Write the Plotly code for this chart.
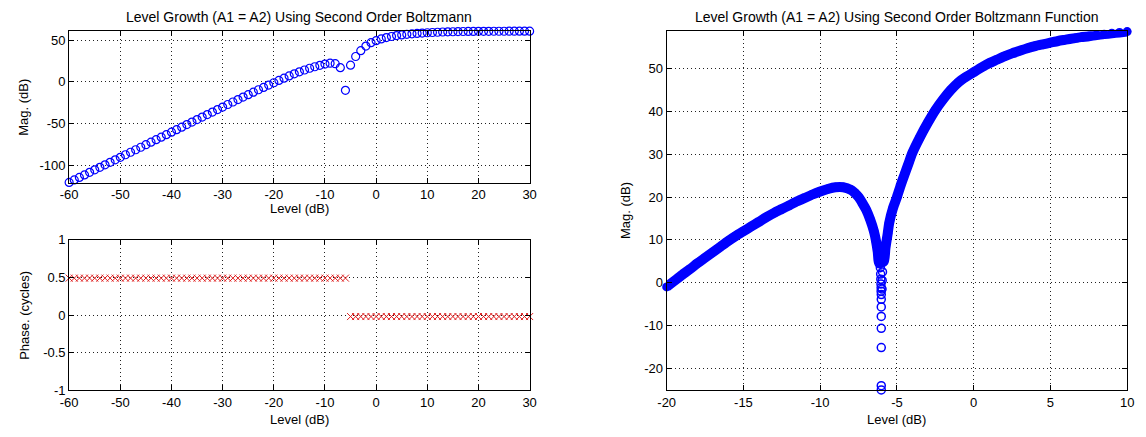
import plotly.graph_objects as go

# ---------------- data ----------------
# Left panels: level steps of 1 dB from -60 to 30
level_db = [-60, -59, -58, -57, -56, -55, -54, -53, -52, -51,
            -50, -49, -48, -47, -46, -45, -44, -43, -42, -41,
            -40, -39, -38, -37, -36, -35, -34, -33, -32, -31,
            -30, -29, -28, -27, -26, -25, -24, -23, -22, -21,
            -20, -19, -18, -17, -16, -15, -14, -13, -12, -11,
            -10, -9, -8, -7, -6, -5, -4, -3, -2, -1,
            0, 1, 2, 3, 4, 5, 6, 7, 8, 9,
            10, 11, 12, 13, 14, 15, 16, 17, 18, 19,
            20, 21, 22, 23, 24, 25, 26, 27, 28, 29, 30]

mag_db = [-120.0, -117.0, -114.0, -111.0, -108.0, -105.0, -102.0, -99.0, -96.0, -93.0,
          -90.0, -87.0, -84.0, -81.0, -78.0, -75.0, -72.0, -69.0, -66.0, -63.0,
          -60.0, -57.0, -54.0, -51.0, -48.0, -45.0, -42.0, -39.0, -36.0, -33.0,
          -30.0, -27.0, -24.0, -21.1, -18.1, -15.2, -12.3, -9.4, -6.6, -3.8,
          -1.0, 1.8, 4.5, 7.1, 9.7, 12.0, 14.2, 16.3, 18.1, 19.8,
          21.3, 22.3, 21.7, 17.0, -10.0, 20.0, 30.3, 37.3, 42.8, 46.8,
          49.2, 51.3, 52.9, 54.2, 55.3, 56.1, 56.8, 57.4, 57.9, 58.3,
          58.7, 59.0, 59.3, 59.55, 59.75, 59.9, 60.05, 60.15, 60.25, 60.3,
          60.35, 60.4, 60.42, 60.45, 60.47, 60.49, 60.5, 60.51, 60.52, 60.53, 60.54]

phase_cycles = [0.49, 0.49, 0.49, 0.49, 0.49, 0.49, 0.49, 0.49, 0.49, 0.49,
                0.49, 0.49, 0.49, 0.49, 0.49, 0.49, 0.49, 0.49, 0.49, 0.49,
                0.49, 0.49, 0.49, 0.49, 0.49, 0.49, 0.49, 0.49, 0.49, 0.49,
                0.49, 0.49, 0.49, 0.49, 0.49, 0.49, 0.49, 0.49, 0.49, 0.49,
                0.49, 0.49, 0.49, 0.49, 0.49, 0.49, 0.49, 0.49, 0.49, 0.49,
                0.49, 0.49, 0.49, 0.49, 0.49, -0.02, -0.02, -0.02, -0.02, -0.02,
                -0.02, -0.02, -0.02, -0.02, -0.02, -0.02, -0.02, -0.02, -0.02, -0.02,
                -0.02, -0.02, -0.02, -0.02, -0.02, -0.02, -0.02, -0.02, -0.02, -0.02,
                -0.02, -0.02, -0.02, -0.02, -0.02, -0.02, -0.02, -0.02, -0.02, -0.02, -0.02]

# Right panel: dense curve, branch below the notch
fine_level_low = [-20.0, -19.5, -19.0, -18.5, -18.0, -17.5, -17.0, -16.5, -16.0, -15.5,
                  -15.0, -14.5, -14.0, -13.5, -13.0, -12.5, -12.0, -11.5, -11.0, -10.5,
                  -10.0, -9.5, -9.0, -8.5, -8.0, -7.75, -7.5, -7.25, -7.0, -6.75,
                  -6.5, -6.35, -6.25, -6.15]
fine_mag_low = [-1.0, 0.4, 1.8, 3.1, 4.5, 5.8, 7.1, 8.4, 9.7, 10.9,
                12.0, 13.1, 14.2, 15.3, 16.3, 17.2, 18.1, 19.0, 19.8, 20.6,
                21.3, 21.9, 22.3, 22.3, 21.7, 21.0, 20.0, 18.6, 17.0, 14.8,
                12.0, 9.5, 7.2, 4.5]
# Right panel: dense curve, branch above the notch
fine_level_high = [-5.85, -5.75, -5.6, -5.5, -5.25, -5.0, -4.75, -4.5, -4.25, -4.0,
                   -3.5, -3.0, -2.5, -2.0, -1.5, -1.0, -0.5, 0.0, 0.5, 1.0,
                   1.5, 2.0, 2.5, 3.0, 3.5, 4.0, 4.5, 5.0, 5.5, 6.0,
                   6.5, 7.0, 7.5, 8.0, 8.5, 9.0, 9.5, 10.0]
fine_mag_high = [5.0, 8.0, 11.5, 14.0, 17.5, 20.0, 22.8, 25.3, 27.8, 30.3,
                 34.0, 37.3, 40.3, 42.8, 45.0, 46.8, 48.1, 49.2, 50.3, 51.3,
                 52.1, 52.9, 53.6, 54.2, 54.8, 55.3, 55.7, 56.1, 56.5, 56.8,
                 57.1, 57.4, 57.6, 57.9, 58.1, 58.3, 58.5, 58.7]
# Right panel: sparse circles inside the notch
notch_level = [-6.08, -6.06, -6.05, -6.04, -6.03, -6.03, -6.02, -6.02, -6.02,
               -6.02, -6.02, -6.02, -6.02, -6.02, -5.97, -5.96, -5.94]
notch_mag = [3.5, 2.0, 0.8, -0.3, -1.2, -2.0, -2.8, -3.9, -5.7,
             -7.9, -10.7, -15.2, -24.1, -25.1, -1.5, 0.5, 2.5]

# tick labels
mag_ticks_left = [-100, -50, 0, 50]
mag_ticktext_left = ["-100", "-50", "0", "50"]
level_ticks_left = [-60, -50, -40, -30, -20, -10, 0, 10, 20, 30]
level_ticktext_left = ["-60", "-50", "-40", "-30", "-20", "-10", "0", "10", "20", "30"]
phase_ticks = [-1, -0.5, 0, 0.5, 1]
phase_ticktext = ["-1", "-0.5", "0", "0.5", "1"]
level_ticks_right = [-20, -15, -10, -5, 0, 5, 10]
level_ticktext_right = ["-20", "-15", "-10", "-5", "0", "5", "10"]
mag_ticks_right = [-20, -10, 0, 10, 20, 30, 40, 50]
mag_ticktext_right = ["-20", "-10", "0", "10", "20", "30", "40", "50"]

# ---------------- styling ----------------
FONT = "Liberation Sans, Arial, Helvetica, sans-serif"
BLUE = "#0000ff"
RED = "#e02020"
W, H = 1146, 437

# axes boxes in pixels
LX0, LX1 = 61, 528
RX0, RX1 = 667, 1134
TY0, TY1 = 25, 182
BY0, BY1 = 241, 397


def px(x):
    return x / W


def py(y):
    return 1 - y / H


axis_style = dict(
    showline=True, linecolor="black", linewidth=1, mirror="ticks",
    ticks="inside", ticklen=5, tickcolor="black", tickwidth=1,
    showgrid=True, gridcolor="#222222", griddash="1px,3px", gridwidth=1,
    zeroline=False, tickfont=dict(family=FONT, size=13, color="black"),
    fixedrange=True,
)

fig = go.Figure()

fig.add_trace(go.Scatter(
    x=level_db, y=mag_db, mode="markers", xaxis="x", yaxis="y",
    marker=dict(symbol="circle-open", size=8, color=BLUE, line=dict(width=1.2, color=BLUE)),
    cliponaxis=False, showlegend=False, hoverinfo="skip"))

fig.add_trace(go.Scatter(
    x=level_db, y=phase_cycles, mode="markers", xaxis="x2", yaxis="y2",
    marker=dict(symbol="x-thin-open", size=7, color=RED, line=dict(width=1, color=RED)),
    cliponaxis=False, showlegend=False, hoverinfo="skip"))

fig.add_trace(go.Scatter(
    x=fine_level_low + fine_level_high, y=fine_mag_low + fine_mag_high,
    mode="lines+markers", xaxis="x3", yaxis="y3",
    line=dict(color=BLUE, width=10, shape="spline", smoothing=0.6),
    marker=dict(symbol="circle", size=9, color=BLUE),
    cliponaxis=False, showlegend=False, hoverinfo="skip"))

fig.add_trace(go.Scatter(
    x=notch_level, y=notch_mag, mode="markers", xaxis="x3", yaxis="y3",
    marker=dict(symbol="circle-open", size=8, color=BLUE, line=dict(width=1.5, color=BLUE)),
    cliponaxis=False, showlegend=False, hoverinfo="skip"))

fig.update_layout(
    width=W, height=H,
    margin=dict(l=0, r=0, t=0, b=0),
    paper_bgcolor="white", plot_bgcolor="white",
    font=dict(family=FONT, size=13, color="black"),
    xaxis=dict(axis_style, domain=[px(LX0), px(LX1)], anchor="y", range=[-60, 30],
               tickvals=level_ticks_left, ticktext=level_ticktext_left),
    yaxis=dict(axis_style, domain=[py(TY1), py(TY0)], anchor="x", range=[-120.4, 60.6],
               tickvals=mag_ticks_left, ticktext=mag_ticktext_left),
    xaxis2=dict(axis_style, domain=[px(LX0), px(LX1)], anchor="y2", range=[-60, 30],
                tickvals=level_ticks_left, ticktext=level_ticktext_left),
    yaxis2=dict(axis_style, domain=[py(BY1), py(BY0)], anchor="x2", range=[-1, 1],
                tickvals=phase_ticks, ticktext=phase_ticktext),
    xaxis3=dict(axis_style, domain=[px(RX0), px(RX1)], anchor="y3", range=[-20, 10],
                tickvals=level_ticks_right, ticktext=level_ticktext_right),
    yaxis3=dict(axis_style, domain=[py(BY1), py(TY0)], anchor="x3", range=[-25.2, 58.8],
                tickvals=mag_ticks_right, ticktext=mag_ticktext_right),
)

ann = []


def text(x, y, s, size=13, angle=0):
    ann.append(dict(x=px(x), y=py(y), xref="paper", yref="paper", text=s,
                    showarrow=False, xanchor="center", yanchor="middle",
                    textangle=angle, font=dict(family=FONT, size=size, color="black")))


text((LX0 + LX1) / 2, 10, "Level Growth (A1 = A2) Using Second Order Boltzmann", 14)
text((RX0 + RX1) / 2, 10, "Level Growth (A1 = A2) Using Second Order Boltzmann Function", 14)
text((LX0 + LX1) / 2, TY1 + 27, "Level (dB)", 13)
text((LX0 + LX1) / 2, BY1 + 30, "Level (dB)", 13)
text((RX0 + RX1) / 2, BY1 + 30, "Level (dB)", 13)
text(15, (TY0 + TY1) / 2, "Mag. (dB)", 13, -90)
text(15, (BY0 + BY1) / 2, "Phase. (cycles)", 13, -90)
text(RX0 - 42, (TY0 + BY1) / 2, "Mag. (dB)", 13, -90)
fig.update_layout(annotations=ann)

fig.write_html("out.html")
